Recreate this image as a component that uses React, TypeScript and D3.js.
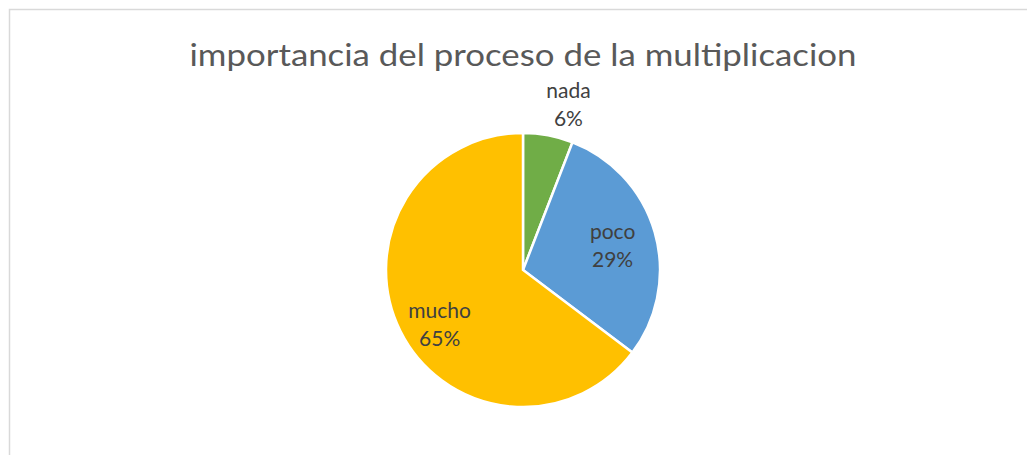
import React from "react";
import * as d3 from "d3";

const categories = ["nada", "poco", "mucho"];
const values = [2, 10, 22];
const colors = ["#70AD47", "#5B9BD5", "#FFC000"];
const title = "importancia del proceso de la multiplicacion";

const W = 1027;
const H = 455;
const cx = 523;
const cy = 270;
const R = 137;
const FONT = "Lato, 'Open Sans', 'Liberation Sans', sans-serif";

export default function App() {
  const total = d3.sum(values);
  const data = categories.map((c, i) => ({ name: c, value: values[i], color: colors[i] }));
  const pie = d3.pie<any>().sort(null).value((d: any) => d.value);
  const arcs = pie(data);
  const arc = d3.arc<any>().innerRadius(0).outerRadius(R);
  const fmt = (v: number) => `${Math.round((v / total) * 100)}%`;

  return (
    <svg
      width={W}
      height={H}
      style={{ position: "absolute", left: 0, top: 0, background: "#fff" }}
    >
      <rect x={9.5} y={9.5} width={W + 10} height={H + 10} fill="#fff" stroke="#D9D9D9" strokeWidth={1.5} />
      <text
        x={523}
        y={66}
        textAnchor="middle"
        fontFamily={FONT}
        fontSize={31}
        fill="#595959"
        textLength={667}
        lengthAdjust="spacingAndGlyphs"
      >
        {title}
      </text>
      <g transform={`translate(${cx},${cy})`}>
        {arcs.map((a, i) => (
          <path key={i} d={arc(a) as string} fill={a.data.color} stroke="#fff" strokeWidth={2.5} />
        ))}
        {arcs.map((a, i) => {
          const mid = (a.startAngle + a.endAngle) / 2;
          const frac = (a.endAngle - a.startAngle) / (2 * Math.PI);
          let x: number, y: number;
          if (frac < 0.1) {
            const rr = R + 34;
            x = Math.sin(mid) * rr + 14;
            y = -Math.cos(mid) * rr + 2;
          } else {
            const rr = R * 0.68;
            x = Math.sin(mid) * rr;
            y = -Math.cos(mid) * rr;
            if (Math.cos(mid) < 0) y += 12;
          }
          return (
            <text key={"l" + i} x={x} y={y} textAnchor="middle" fontFamily={FONT} fontSize={21} fill="#404040">
              <tspan x={x} dy={-6}>{a.data.name}</tspan>
              <tspan x={x} dy={28}>{fmt(a.data.value)}</tspan>
            </text>
          );
        })}
      </g>
    </svg>
  );
}
